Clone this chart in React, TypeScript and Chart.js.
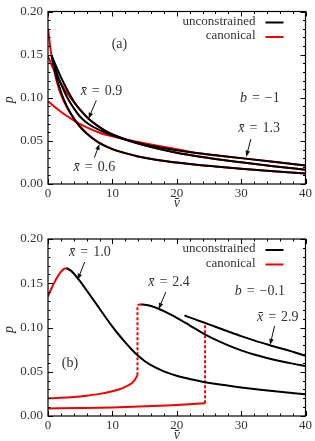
import React, { useEffect, useRef } from 'react';
import { Chart, registerables } from 'chart.js';

Chart.register(...registerables);

const FONT = '"Liberation Serif", "DejaVu Serif", serif';
const RED = '#f00000';
const BLACK = '#000000';
const TEXT = '#333333';

// ---------- tick labels ----------
const xTickStep = 10;
const xMinorStep = 2;
const yTickStep = 0.05;
const yMinorStep = 0.01;
const xRange = [0, 40];
const yRange = [0, 0.2];

// ---------- panel (a), b = -1 ----------
// unconstrained
const aUnc06V = [0.6, 1, 2, 3, 4, 5, 6, 7, 8, 10, 12, 14, 17, 20, 23.4, 26, 30, 35, 40];
const aUnc06P = [0.148, 0.133, 0.107, 0.089, 0.076, 0.066, 0.0585, 0.0525, 0.0475, 0.0405, 0.0358, 0.032, 0.0278, 0.0248, 0.022, 0.0203, 0.0178, 0.0149, 0.0122];
const aUnc09V = [0.6, 1, 2, 3, 4, 5, 6.3, 8, 9.2, 11, 14, 17, 20, 23.4, 26, 30, 35, 40];
const aUnc09P = [0.148, 0.141, 0.124, 0.109, 0.096, 0.086, 0.0757, 0.066, 0.0605, 0.0545, 0.0468, 0.041, 0.0362, 0.0318, 0.029, 0.0252, 0.0207, 0.0166];
const aUnc13V = [0.6, 1, 2, 3, 4, 5, 6.3, 8, 10, 12, 14, 17, 20, 23.4, 26, 30, 35, 40];
const aUnc13P = [0.148, 0.137, 0.116, 0.1, 0.088, 0.078, 0.0695, 0.0625, 0.0565, 0.0515, 0.0475, 0.043, 0.0392, 0.0356, 0.0332, 0.030, 0.0258, 0.0215];
// canonical
const aCan06V = [0, 0.5, 1, 1.5, 2, 3, 4, 5, 6, 7, 8, 10, 12, 14, 17, 20, 23.4, 26, 30, 35, 40];
const aCan06P = [0.18, 0.151, 0.13, 0.115, 0.104, 0.088, 0.0765, 0.0668, 0.059, 0.0528, 0.0477, 0.0405, 0.0358, 0.032, 0.0278, 0.0248, 0.022, 0.0203, 0.0178, 0.0149, 0.0122];
const aCan09V = [0, 0.5, 1, 2, 3, 4, 5, 6.3, 8, 9.2, 11, 14, 17, 20, 23.4, 26, 30, 35, 40];
const aCan09P = [0.148, 0.139, 0.131, 0.117, 0.105, 0.095, 0.086, 0.0757, 0.066, 0.0605, 0.0545, 0.0468, 0.041, 0.0362, 0.0318, 0.029, 0.0252, 0.0207, 0.0166];
const aCan13V = [0, 1, 2, 3, 4, 5, 6, 8, 10, 12, 14, 17, 20, 22, 23.4, 26, 30, 35, 40];
const aCan13P = [0.096, 0.0895, 0.0838, 0.0785, 0.0738, 0.0695, 0.0657, 0.0595, 0.0553, 0.0518, 0.0488, 0.0445, 0.0403, 0.0375, 0.0356, 0.0332, 0.030, 0.0258, 0.0215];

// ---------- panel (b), b = -0.1 ----------
// unconstrained
const bUnc10V = [2.9, 3.5, 4, 5, 6, 7, 8, 9, 10, 11, 12, 13, 14, 15, 16, 18, 20, 22, 24, 27, 30, 33, 36, 40];
const bUnc10P = [0.1668, 0.1645, 0.161, 0.152, 0.142, 0.1318, 0.1215, 0.111, 0.101, 0.0918, 0.0832, 0.0752, 0.068, 0.0622, 0.0575, 0.0505, 0.0455, 0.0418, 0.0388, 0.0352, 0.0322, 0.0296, 0.0273, 0.0245];
const bUnc24V = [14.5, 15, 16, 17, 18, 19, 20, 22, 24.3, 26, 28, 30, 32, 34, 36, 38, 40];
const bUnc24P = [0.126, 0.1257, 0.1243, 0.1218, 0.1185, 0.1148, 0.111, 0.1025, 0.0925, 0.0862, 0.0798, 0.0742, 0.0695, 0.0656, 0.0622, 0.0592, 0.0565];
const bUnc29V = [21.2, 22, 24, 26, 28, 30, 32, 34, 35, 37, 40];
const bUnc29P = [0.1135, 0.1115, 0.1062, 0.1008, 0.0955, 0.0903, 0.0855, 0.081, 0.0788, 0.0748, 0.068];
// canonical
const bCan10V = [0, 0.5, 1, 1.5, 2, 2.5, 2.8, 3.2];
const bCan10P = [0.135, 0.1435, 0.151, 0.1575, 0.1628, 0.1662, 0.1670, 0.1664];
const bCan24V = [0, 2, 4, 6, 8, 10, 11, 12, 13, 13.5, 13.9];
const bCan24P = [0.020, 0.0205, 0.0215, 0.023, 0.025, 0.028, 0.030, 0.033, 0.037, 0.041, 0.046];
const bCan24JumpV = [13.9, 13.9];
const bCan24JumpP = [0.046, 0.1252];
const bCan24TopV = [13.9, 14.2, 14.6];
const bCan24TopP = [0.1252, 0.126, 0.126];
const bCan29V = [0, 5, 10, 15, 20, 24.4];
const bCan29P = [0.0085, 0.009, 0.0097, 0.011, 0.0125, 0.0145];
const bCan29JumpV = [24.4, 24.4];
const bCan29JumpP = [0.0145, 0.104];

// ---------- text ----------
const legendLabels = ['unconstrained', 'canonical'];
const legendColors = [BLACK, RED];
const xTitle = 'v\u0304';
const yTitle = 'p';

type Part = string | [string, boolean];
type Note = { parts: Part[]; v: number; p: number; arrow?: number[] };

const notesA: Note[] = [
  { parts: ['(a)'], v: 11.1, p: 0.162 },
  { parts: [['b', true], '=', '\u22121'], v: 32.9, p: 0.099 },
  { parts: [['x\u0304', true], '=', '0.9'], v: 8.3, p: 0.107, arrow: [7.5, 0.097, 6.3, 0.0757] },
  { parts: [['x\u0304', true], '=', '0.6'], v: 7.2, p: 0.0195, arrow: [7.2, 0.0305, 8.0, 0.0465] },
  { parts: [['x\u0304', true], '=', '1.3'], v: 32.8, p: 0.064, arrow: [31.5, 0.052, 30.8, 0.0316] },
];
const notesB: Note[] = [
  { parts: ['(b)'], v: 3.4, p: 0.0595 },
  { parts: [['b', true], '=', '\u22120.1'], v: 32.9, p: 0.141 },
  { parts: [['x\u0304', true], '=', '1.0'], v: 6.5, p: 0.185, arrow: [5.7, 0.174, 4.6, 0.154] },
  { parts: [['x\u0304', true], '=', '2.4'], v: 18.8, p: 0.151, arrow: [18.3, 0.140, 17.2, 0.121] },
  { parts: [['x\u0304', true], '=', '2.9'], v: 35.7, p: 0.112, arrow: [35.2, 0.1017, 34.5, 0.0805] },
];

function line(vs: number[], ps: number[], color: string, dashed = false) {
  return {
    data: vs.map((v, i) => ({ x: v, y: ps[i] })),
    borderColor: color,
    backgroundColor: color,
    borderWidth: 2,
    pointRadius: 0,
    fill: false,
    borderDash: dashed ? [3, 2] : [],
    tension: dashed ? 0 : 0.4,
    cubicInterpolationMode: dashed ? 'default' : 'monotone',
    borderCapStyle: 'butt',
    borderJoinStyle: 'round',
  };
}

function drawParts(ctx: CanvasRenderingContext2D, parts: Part[], cx: number, cy: number) {
  const size = 14;
  const gap = 5;
  const items = parts.map((pt) => {
    const t = typeof pt === 'string' ? pt : pt[0];
    const it = typeof pt === 'string' ? false : pt[1];
    ctx.font = `${it ? 'italic ' : ''}${size}px ${FONT}`;
    return { t, it, w: ctx.measureText(t).width };
  });
  const total = items.reduce((s, i) => s + i.w, 0) + gap * (items.length - 1);
  let x = cx - total / 2;
  ctx.textAlign = 'left';
  ctx.textBaseline = 'middle';
  ctx.fillStyle = TEXT;
  for (const i of items) {
    ctx.font = `${i.it ? 'italic ' : ''}${size}px ${FONT}`;
    ctx.fillText(i.t, x, cy);
    x += i.w + gap;
  }
}

function drawArrow(ctx: CanvasRenderingContext2D, x1: number, y1: number, x2: number, y2: number) {
  const ang = Math.atan2(y2 - y1, x2 - x1);
  const L = 6;
  const W = 2.3;
  ctx.strokeStyle = '#111';
  ctx.fillStyle = '#111';
  ctx.lineWidth = 1;
  ctx.beginPath();
  ctx.moveTo(x1, y1);
  ctx.lineTo(x2 - Math.cos(ang) * L * 0.8, y2 - Math.sin(ang) * L * 0.8);
  ctx.stroke();
  ctx.beginPath();
  ctx.moveTo(x2, y2);
  ctx.lineTo(x2 - L * Math.cos(ang) + W * Math.sin(ang), y2 - L * Math.sin(ang) - W * Math.cos(ang));
  ctx.lineTo(x2 - L * Math.cos(ang) - W * Math.sin(ang), y2 - L * Math.sin(ang) + W * Math.cos(ang));
  ctx.closePath();
  ctx.fill();
}

const decoPlugin = {
  id: 'deco',
  afterDatasetsDraw(chart: any, _args: any, opts: any) {
    const { ctx, chartArea: a, scales } = chart;
    const xs = scales.x;
    const ys = scales.y;
    ctx.save();
    // frame
    ctx.strokeStyle = '#000';
    ctx.lineWidth = 1.2;
    ctx.strokeRect(a.left, a.top, a.right - a.left, a.bottom - a.top);
    // inward ticks on all four sides
    ctx.lineWidth = 1;
    ctx.beginPath();
    const nx = Math.round((xRange[1] - xRange[0]) / xMinorStep);
    for (let i = 0; i <= nx; i++) {
      const v = xRange[0] + i * xMinorStep;
      const major = Math.abs(v / xTickStep - Math.round(v / xTickStep)) < 1e-6;
      const len = major ? 5 : 2.5;
      const px = Math.round(xs.getPixelForValue(v)) + 0.5;
      ctx.moveTo(px, a.bottom);
      ctx.lineTo(px, a.bottom - len);
      ctx.moveTo(px, a.top);
      ctx.lineTo(px, a.top + len);
    }
    const ny = Math.round((yRange[1] - yRange[0]) / yMinorStep);
    for (let i = 0; i <= ny; i++) {
      const p = yRange[0] + i * yMinorStep;
      const major = i % Math.round(yTickStep / yMinorStep) === 0;
      const len = major ? 5 : 2.5;
      const py = Math.round(ys.getPixelForValue(p)) + 0.5;
      ctx.moveTo(a.left, py);
      ctx.lineTo(a.left + len, py);
      ctx.moveTo(a.right, py);
      ctx.lineTo(a.right - len, py);
    }
    ctx.stroke();

    // axis titles
    ctx.fillStyle = TEXT;
    ctx.font = `italic 14px ${FONT}`;
    ctx.textAlign = 'center';
    ctx.textBaseline = 'middle';
    ctx.fillText(xTitle, (a.left + a.right) / 2, a.bottom + 19);
    ctx.save();
    ctx.translate(9, (a.top + a.bottom) / 2 + 2);
    ctx.rotate(-Math.PI / 2);
    ctx.fillText(yTitle, 0, 0);
    ctx.restore();

    // legend
    ctx.font = `13px ${FONT}`;
    legendLabels.forEach((lab, i) => {
      const y = a.top + 10 + i * 14.5;
      ctx.fillStyle = TEXT;
      ctx.textAlign = 'right';
      ctx.textBaseline = 'middle';
      ctx.fillText(lab, a.right - 50, y);
      ctx.strokeStyle = legendColors[i];
      ctx.lineWidth = 2;
      ctx.beginPath();
      ctx.moveTo(a.right - 40, y + 1);
      ctx.lineTo(a.right - 22, y + 1);
      ctx.stroke();
    });

    // notes
    (opts.notes as Note[]).forEach((n) => {
      drawParts(ctx, n.parts, xs.getPixelForValue(n.v), ys.getPixelForValue(n.p));
      if (n.arrow) {
        const [v1, p1, v2, p2] = n.arrow;
        drawArrow(ctx, xs.getPixelForValue(v1), ys.getPixelForValue(p1), xs.getPixelForValue(v2), ys.getPixelForValue(p2));
      }
    });
    ctx.restore();
  },
};

function Panel({ height, padTop, xAxisH, datasets, notes }: any) {
  const ref = useRef<HTMLCanvasElement>(null);
  useEffect(() => {
    if (!ref.current) return;
    const chart = new Chart(ref.current, {
      type: 'line',
      data: { datasets },
      options: {
        animation: false,
        responsive: false,
        maintainAspectRatio: false,
        events: [],
        layout: { padding: { left: 0, right: 7, top: padTop, bottom: 0 } },
        plugins: {
          legend: { display: false },
          tooltip: { enabled: false },
          deco: { notes },
        } as any,
        scales: {
          x: {
            type: 'linear',
            min: xRange[0],
            max: xRange[1],
            grid: { display: false, drawTicks: false },
            border: { display: false },
            ticks: {
              stepSize: xTickStep,
              color: TEXT,
              padding: 3,
              maxRotation: 0,
              font: { family: FONT, size: 13, lineHeight: 1 },
              callback: (v: any) => String(v),
            },
            afterFit: (s: any) => {
              s.height = xAxisH;
            },
          },
          y: {
            type: 'linear',
            min: yRange[0],
            max: yRange[1],
            grid: { display: false, drawTicks: false },
            border: { display: false },
            ticks: {
              stepSize: yTickStep,
              color: TEXT,
              padding: 5,
              font: { family: FONT, size: 13, lineHeight: 1 },
              callback: (v: any) => Number(v).toFixed(2),
            },
            afterFit: (s: any) => {
              s.width = 48;
            },
          },
        },
      } as any,
      plugins: [decoPlugin],
    });
    return () => chart.destroy();
  }, []);
  return (
    <div style={{ width: 315, height }}>
      <canvas ref={ref} width={315} height={height} style={{ width: 315, height, display: 'block' }} />
    </div>
  );
}

export default function App() {
  const dsA = [
    line(aUnc06V, aUnc06P, BLACK),
    line(aUnc09V, aUnc09P, BLACK),
    line(aUnc13V, aUnc13P, BLACK),
    line(aCan06V, aCan06P, RED),
    line(aCan09V, aCan09P, RED),
    line(aCan13V, aCan13P, RED),
  ];
  const dsB = [
    line(bUnc10V, bUnc10P, BLACK),
    line(bUnc24V, bUnc24P, BLACK),
    line(bUnc29V, bUnc29P, BLACK),
    line(bCan10V, bCan10P, RED),
    line(bCan24V, bCan24P, RED),
    line(bCan24JumpV, bCan24JumpP, RED, true),
    line(bCan24TopV, bCan24TopP, RED),
    line(bCan29V, bCan29P, RED),
    line(bCan29JumpV, bCan29JumpP, RED, true),
  ];
  return (
    <div style={{ position: 'absolute', left: 0, top: 0, width: 315, height: 441, background: '#fff' }}>
      <Panel height={220} padTop={7} xAxisH={36} datasets={dsA} notes={notesA} />
      <Panel height={221} padTop={19} xAxisH={25} datasets={dsB} notes={notesB} />
    </div>
  );
}
